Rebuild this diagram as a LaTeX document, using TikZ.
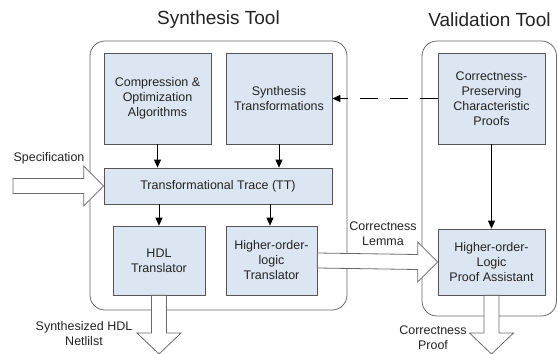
\documentclass[tikz,border=0pt]{standalone}
\usepackage{fontspec}
\setmainfont{Liberation Sans}
\usetikzlibrary{arrows.meta,calc}
\definecolor{boxfill}{RGB}{220,230,242}
\definecolor{boxline}{RGB}{85,85,85}
\definecolor{frameline}{RGB}{105,105,105}
\definecolor{inktext}{RGB}{35,35,35}
% hollow block arrows: #1 = tail, #2 = tip
\newcommand{\rightblock}[2]{\draw[blk] ($(#1)+(0,-7.5)$) -- ($(#2)+(-20,-7.5)$) -- ($(#2)+(-20,-20)$) -- (#2)
  -- ($(#2)+(-20,20)$) -- ($(#2)+(-20,7.5)$) -- ($(#1)+(0,7.5)$) -- cycle;}
\newcommand{\downblock}[2]{\draw[blk] ($(#1)+(-7.5,0)$) -- ($(#2)+(-7.5,-21)$) -- ($(#2)+(-22,-21)$) -- (#2)
  -- ($(#2)+(22,-21)$) -- ($(#2)+(7.5,-21)$) -- ($(#1)+(7.5,0)$) -- cycle;}

\begin{document}
\begin{tikzpicture}[x=1pt,y=-1pt,
    b/.style={rectangle,draw=boxline,fill=boxfill,line width=0.7pt,align=center,
      inner sep=0pt,text=inktext,font=\fontsize{12.5}{15}\selectfont},
    t/.style={text=inktext,font=\fontsize{19}{22}\selectfont},
    l/.style={text=inktext,align=center,inner sep=0pt,font=\fontsize{12.5}{15}\selectfont},
    frame/.style={draw=frameline,rounded corners=15pt,line width=0.8pt},
    blk/.style={draw=frameline,fill=white,line width=0.8pt},
    a/.style={-{Triangle[length=8pt,width=7pt]},black,line width=0.8pt}]
  \useasboundingbox (0,0) rectangle (558,354);
  % tool frames
  \draw[frame] (90,41) rectangle (347,310);
  \draw[frame] (422,41) rectangle (556.5,316);
  \node[t] (synth) at (218.5,20) {Synthesis Tool};
  \node[t] (valid) at (489.5,20) {Validation Tool};
  % boxes
  \node[b,minimum width=107pt,minimum height=91pt] (comp) at (157.5,98.5) {Compression \&\\Optimization\\Algorithms};
  \node[b,minimum width=106pt,minimum height=91pt] (st) at (279,98.5) {Synthesis\\Transformations};
  \node[b,minimum width=107pt,minimum height=91pt] (cp) at (491.5,98.5) {Correctness-\\Preserving\\Characteristic\\Proofs};
  \node[b,minimum width=228pt,minimum height=36pt] (tt) at (218,186) {Transformational Trace (TT)};
  \node[b,minimum width=92pt,minimum height=69pt] (hdl) at (159,260.5) {HDL\\Translator};
  \node[b,minimum width=91pt,minimum height=69pt] (hol) at (271.5,260.5) {Higher-order-\\logic\\Translator};
  \node[b,minimum width=107pt,minimum height=66pt] (pa) at (491.5,262) {Higher-order-\\Logic\\Proof Assistant};
  % connectors
  \draw[a] (comp.south) -- (comp.south |- tt.north);
  \draw[a] (st.south) -- (st.south |- tt.north);
  \draw[a] (hdl.north |- tt.south) -- (hdl.north);
  \draw[a] ([xshift=-1.5pt]hol.north |- tt.south) -- ([xshift=-1.5pt]hol.north);
  \draw[a] (cp.south) -- (pa.north);
  \draw[a,dash pattern=on 18pt off 12pt] (cp.west) -- (st.east);
  % block arrows
  \coordinate (specin) at (13,186);
  \coordinate (hdlout) at (159,354);
  \coordinate (pfout) at (491.5,354);
  \rightblock{specin}{tt.west}
  \rightblock{hol.east}{pa.west}
  \downblock{hdl.south}{hdlout}
  \downblock{pa.south}{pfout}
  % labels
  \node[l] (spec) at (49,158) {Specification};
  \node[l] (lemma) at (383,234) {Correctness\\Lemma};
  \node[l] (netlist) at (84,334) {Synthesized HDL\\Netlilst};
  \node[l] (proof) at (433,338) {Correctness\\Proof};
\end{tikzpicture}
\end{document}
